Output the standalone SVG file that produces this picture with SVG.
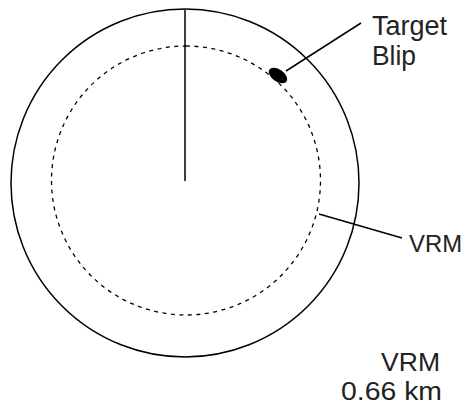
<svg xmlns="http://www.w3.org/2000/svg" width="465" height="405" viewBox="0 0 465 405">
  <style>
    .ring { fill: none; stroke: #000; stroke-width: 1.5; }
    .vrm { fill: none; stroke: #000; stroke-width: 1.3; stroke-dasharray: 4 4.5; }
    .lead { stroke: #000; stroke-width: 1.5; fill: none; }
    .lbl { font-family: "Liberation Sans", Arial, sans-serif; fill: #222; }
  </style>
  <rect width="465" height="405" fill="#fff"/>

  <!-- radar display -->
  <g id="display">
    <circle class="ring" cx="185" cy="183" r="174"/>
    <line class="lead" x1="185" y1="10" x2="185" y2="181"/>
  </g>

  <!-- variable range marker -->
  <g id="vrm-ring">
    <circle class="vrm" cx="186" cy="180.5" r="134.5" transform="rotate(-90 186 180.5)"/>
  </g>

  <!-- target echo -->
  <g id="target-blip">
    <ellipse cx="278" cy="75.5" rx="10.5" ry="6" transform="rotate(35 278 75.5)" fill="#000"/>
  </g>

  <!-- leader lines -->
  <g id="connectors">
    <line class="lead" x1="286" y1="71" x2="361" y2="23"/>
    <line class="lead" x1="319" y1="214" x2="402" y2="238"/>
  </g>

  <g id="label-target">
    <text class="lbl" x="372" y="35" font-size="27" textLength="75" lengthAdjust="spacingAndGlyphs">Target</text>
    <text class="lbl" x="372" y="65" font-size="27" textLength="44" lengthAdjust="spacingAndGlyphs">Blip</text>
  </g>
  <g id="label-vrm">
    <text class="lbl" x="409" y="252" font-size="24" textLength="53" lengthAdjust="spacingAndGlyphs">VRM</text>
  </g>
  <g id="label-readout">
    <text class="lbl" x="381" y="371" font-size="25" textLength="59" lengthAdjust="spacingAndGlyphs">VRM</text>
    <text class="lbl" x="341" y="400" font-size="25" textLength="101" lengthAdjust="spacingAndGlyphs">0.66 km</text>
  </g>
</svg>
